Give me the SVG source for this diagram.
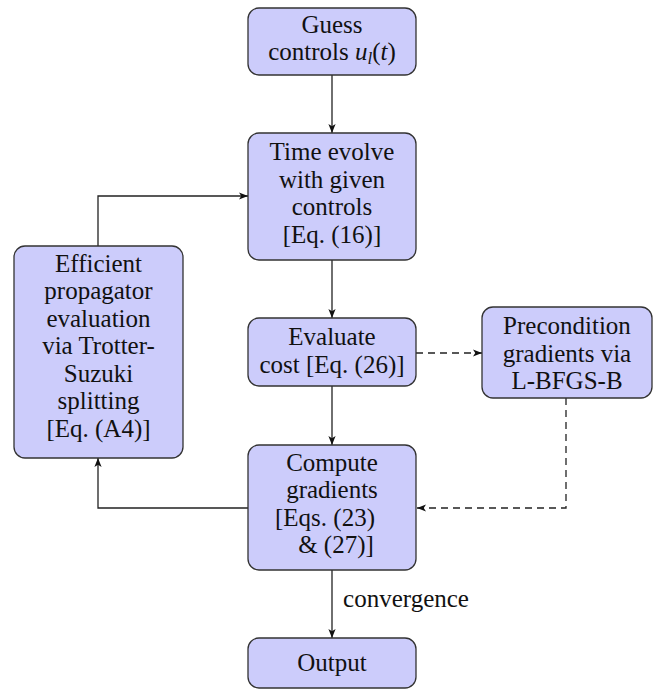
<svg xmlns="http://www.w3.org/2000/svg" width="660" height="690" viewBox="0 0 660 690">
<defs>
<marker id="ah" viewBox="0 0 10 10" refX="10" refY="5" markerWidth="9" markerHeight="9" markerUnits="userSpaceOnUse" orient="auto">
<path d="M0,1 L10,5 L0,9 L2.5,5 Z" fill="#111"/>
</marker>
</defs>
<rect width="660" height="690" fill="#fff"/>
<g id="connectors" stroke="#222" stroke-width="1.3" fill="none">
<line x1="332" y1="75" x2="332" y2="133" marker-end="url(#ah)"/>
<line x1="332" y1="260" x2="332" y2="318" marker-end="url(#ah)"/>
<line x1="332" y1="386" x2="332" y2="445" marker-end="url(#ah)"/>
<line x1="332" y1="570" x2="332" y2="638" marker-end="url(#ah)"/>
<line stroke-dasharray="7 5" x1="416" y1="353" x2="482" y2="353" marker-end="url(#ah)"/>
<path stroke-dasharray="7 5" d="M566,398 V508 H417" marker-end="url(#ah)"/>
<path d="M248,508 H98 V458" marker-end="url(#ah)"/>
<path d="M98,246 V196 H248" marker-end="url(#ah)"/>
</g>
<text x="406" y="607" font-family="Liberation Serif" font-size="25" fill="#111" text-anchor="middle">convergence</text>
<g id="guess">
<rect x="248" y="8" width="168" height="67" rx="11" fill="#ccccfb" stroke="#333" stroke-width="1.3"/>
<text x="332" y="33" font-family="Liberation Serif" font-size="25" fill="#111" text-anchor="middle">Guess</text>
<text x="332" y="60" font-family="Liberation Serif" font-size="25" fill="#111" text-anchor="middle">controls <tspan font-style="italic">u</tspan><tspan font-style="italic" font-size="17" dy="4">l</tspan><tspan dy="-4">(</tspan><tspan font-style="italic">t</tspan>)</text>
</g>
<g id="evolve">
<rect x="248" y="133" width="168" height="127" rx="11" fill="#ccccfb" stroke="#333" stroke-width="1.3"/>
<text x="332" y="160" font-family="Liberation Serif" font-size="25" fill="#111" text-anchor="middle">Time evolve</text>
<text x="332" y="188" font-family="Liberation Serif" font-size="25" fill="#111" text-anchor="middle">with given</text>
<text x="332" y="215" font-family="Liberation Serif" font-size="25" fill="#111" text-anchor="middle">controls</text>
<text x="332" y="243" font-family="Liberation Serif" font-size="25" fill="#111" text-anchor="middle">[Eq. (16)]</text>
</g>
<g id="trotter">
<rect x="14" y="246" width="169" height="212" rx="11" fill="#ccccfb" stroke="#333" stroke-width="1.3"/>
<text x="98.5" y="272" font-family="Liberation Serif" font-size="25" fill="#111" text-anchor="middle">Efficient</text>
<text x="98.5" y="299" font-family="Liberation Serif" font-size="25" fill="#111" text-anchor="middle">propagator</text>
<text x="98.5" y="327" font-family="Liberation Serif" font-size="25" fill="#111" text-anchor="middle">evaluation</text>
<text x="98.5" y="354" font-family="Liberation Serif" font-size="25" fill="#111" text-anchor="middle">via Trotter-</text>
<text x="98.5" y="382" font-family="Liberation Serif" font-size="25" fill="#111" text-anchor="middle">Suzuki</text>
<text x="98.5" y="409" font-family="Liberation Serif" font-size="25" fill="#111" text-anchor="middle">splitting</text>
<text x="98.5" y="437" font-family="Liberation Serif" font-size="25" fill="#111" text-anchor="middle">[Eq. (A4)]</text>
</g>
<g id="cost">
<rect x="248" y="318" width="168" height="68" rx="11" fill="#ccccfb" stroke="#333" stroke-width="1.3"/>
<text x="332" y="345" font-family="Liberation Serif" font-size="25" fill="#111" text-anchor="middle">Evaluate</text>
<text x="332" y="373" font-family="Liberation Serif" font-size="25" fill="#111" text-anchor="middle">cost [Eq. (26)]</text>
</g>
<g id="precond">
<rect x="482" y="307" width="170" height="91" rx="11" fill="#ccccfb" stroke="#333" stroke-width="1.3"/>
<text x="567" y="334" font-family="Liberation Serif" font-size="25" fill="#111" text-anchor="middle">Precondition</text>
<text x="567" y="362" font-family="Liberation Serif" font-size="25" fill="#111" text-anchor="middle">gradients via</text>
<text x="567" y="389" font-family="Liberation Serif" font-size="25" fill="#111" text-anchor="middle">L-BFGS-B</text>
</g>
<g id="grad">
<rect x="248" y="445" width="168" height="125" rx="11" fill="#ccccfb" stroke="#333" stroke-width="1.3"/>
<text x="332" y="471" font-family="Liberation Serif" font-size="25" fill="#111" text-anchor="middle">Compute</text>
<text x="332" y="498" font-family="Liberation Serif" font-size="25" fill="#111" text-anchor="middle">gradients</text>
<text x="325" y="526" font-family="Liberation Serif" font-size="25" fill="#111" text-anchor="middle">[Eqs. (23)</text>
<text x="336" y="553" font-family="Liberation Serif" font-size="25" fill="#111" text-anchor="middle">&amp; (27)]</text>
</g>
<g id="output">
<rect x="248" y="638" width="168" height="50" rx="11" fill="#ccccfb" stroke="#333" stroke-width="1.3"/>
<text x="332" y="671" font-family="Liberation Serif" font-size="25" fill="#111" text-anchor="middle">Output</text>
</g>
</svg>
